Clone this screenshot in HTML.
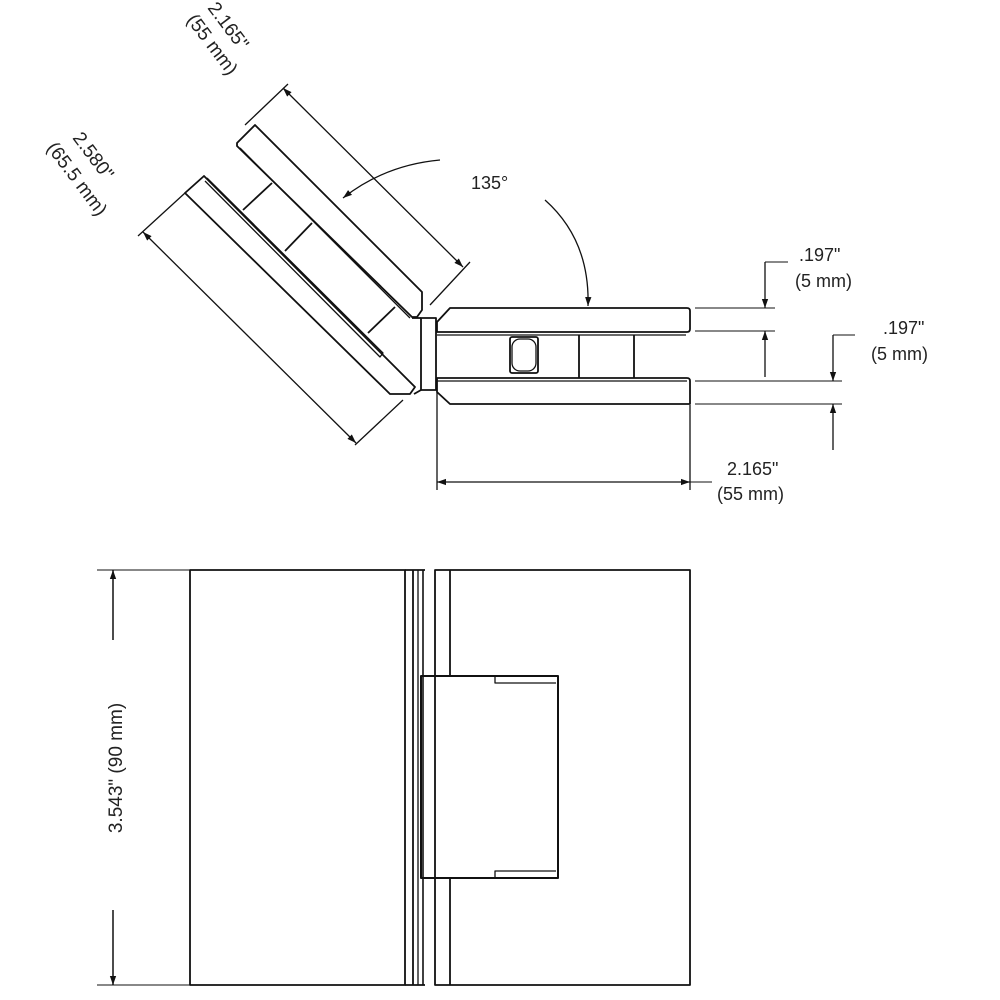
<!DOCTYPE html>
<html><head><meta charset="utf-8"><style>
html,body{margin:0;padding:0;background:#fff}
svg{display:block}
text{font-family:"Liberation Sans",Arial,sans-serif;fill:#222}
</style></head><body>
<svg width="1000" height="1000" viewBox="0 0 1000 1000" xmlns="http://www.w3.org/2000/svg">
<defs>
<marker id="a" viewBox="0 0 10 10" refX="10" refY="5" markerWidth="9" markerHeight="9" orient="auto-start-reverse" markerUnits="userSpaceOnUse"><path d="M0,1.5 L10,5 L0,8.5 z" fill="#111"/></marker>
</defs>
<g fill="none" stroke="#111" stroke-width="1.8" stroke-linejoin="round">
<path d="M450,308 L687,308 Q690,308 690,311 L690,329 Q690,332 687,332 L437,332 L437,322 Z"/>
<line x1="437" y1="335" x2="686" y2="335" stroke-width="1.2"/>
<path d="M437,378 L687,378 Q690,378 690,381 L690,404 L450,404 L437,392 Z"/>
<line x1="437" y1="381" x2="687" y2="381" stroke-width="1.2"/>
<rect x="510" y="337" width="28" height="36" rx="2"/>
<rect x="512" y="339" width="24" height="32" rx="8" stroke-width="1.3"/>
<line x1="579" y1="335" x2="579" y2="378"/>
<line x1="634" y1="335" x2="634" y2="378"/>
<rect x="421" y="318" width="15" height="72"/>
<line x1="437" y1="392" x2="437" y2="490" stroke-width="1.3"/>
<line x1="690" y1="405" x2="690" y2="490" stroke-width="1.3"/>
<line x1="421" y1="318" x2="412" y2="318"/>
<line x1="421" y1="390" x2="414" y2="394"/>
<path d="M185,193 L204,176 L415,387 L410,394 L390,394 Z"/>
<path d="M207,178 L383,353 L380,357 L205,181" stroke-width="1.3"/>
<path d="M237,143 L255,125 L422,292 L422,310 L417,317 L412,317 L237,146 Z"/>
<path d="M240,148 L410,318" stroke-width="1.3"/>
<line x1="243" y1="210" x2="272" y2="183"/>
<line x1="285" y1="251" x2="312" y2="223"/>
<line x1="368" y1="333" x2="395" y2="307"/>
<line x1="283" y1="88" x2="463" y2="267" stroke-width="1.3" marker-start="url(#a)" marker-end="url(#a)"/>
<line x1="245" y1="125" x2="288" y2="84" stroke-width="1.3"/>
<line x1="430" y1="305" x2="470" y2="262" stroke-width="1.3"/>
<line x1="143" y1="232" x2="356" y2="443" stroke-width="1.3" marker-start="url(#a)" marker-end="url(#a)"/>
<line x1="185" y1="193" x2="138" y2="236" stroke-width="1.3"/>
<line x1="403" y1="400" x2="355" y2="445" stroke-width="1.3"/>
<path d="M440,160 Q385,165 343,198" stroke-width="1.3" marker-end="url(#a)"/>
<path d="M545,200 Q590,240 588,306" stroke-width="1.3" marker-end="url(#a)"/>
<g stroke-width="1.1">
<line x1="695" y1="308" x2="775" y2="308"/>
<line x1="695" y1="331" x2="775" y2="331"/>
<line x1="695" y1="381" x2="842" y2="381"/>
<line x1="695" y1="404" x2="842" y2="404"/>
<line x1="765" y1="262" x2="788" y2="262"/>
<line x1="833" y1="335" x2="855" y2="335"/>
</g>
<line x1="765" y1="262" x2="765" y2="308" stroke-width="1.3" marker-end="url(#a)"/>
<line x1="765" y1="377" x2="765" y2="331" stroke-width="1.3" marker-end="url(#a)"/>
<line x1="833" y1="335" x2="833" y2="381" stroke-width="1.3" marker-end="url(#a)"/>
<line x1="833" y1="450" x2="833" y2="404" stroke-width="1.3" marker-end="url(#a)"/>
<line x1="437" y1="482" x2="690" y2="482" stroke-width="1.3" marker-start="url(#a)" marker-end="url(#a)"/>
<line x1="690" y1="482" x2="712" y2="482" stroke-width="1.1"/>
<rect x="190" y="570" width="215" height="415"/>
<line x1="413" y1="570" x2="413" y2="985"/>
<line x1="418" y1="570" x2="418" y2="985" stroke-width="1.3"/>
<line x1="423" y1="570" x2="423" y2="985" stroke-width="1.6"/>
<line x1="405" y1="570" x2="425" y2="570"/>
<line x1="405" y1="985" x2="425" y2="985"/>
<path d="M435,985 L435,570 L690,570 L690,985 Z"/>
<line x1="450" y1="570" x2="450" y2="676"/>
<line x1="450" y1="878" x2="450" y2="985"/>
<path d="M421,676 L558,676 L558,878 L421,878 Z" stroke-width="2"/>
<path d="M495,676 L495,683 L556,683" stroke-width="1.3"/>
<path d="M495,878 L495,871 L556,871" stroke-width="1.3"/>
<line x1="97" y1="570" x2="190" y2="570" stroke-width="1.1"/>
<line x1="97" y1="985" x2="190" y2="985" stroke-width="1.1"/>
<line x1="113" y1="640" x2="113" y2="570" stroke-width="1.5" marker-end="url(#a)"/>
<line x1="113" y1="910" x2="113" y2="985" stroke-width="1.5" marker-end="url(#a)"/>
</g>
<g font-size="18">
<text x="471" y="189">135°</text>
<text x="799" y="261">.197"</text>
<text x="795" y="287">(5 mm)</text>
<text x="883" y="334">.197"</text>
<text x="871" y="360">(5 mm)</text>
<text x="727" y="475">2.165"</text>
<text x="717" y="500">(55 mm)</text>
<text font-size="19" transform="translate(207,8) rotate(53)">2.165"</text>
<text font-size="19" transform="translate(186,20) rotate(53)">(55 mm)</text>
<text font-size="19" transform="translate(72,138) rotate(53)">2.580"</text>
<text font-size="19" transform="translate(46,148) rotate(53)">(65.5 mm)</text>
<text font-size="19" text-anchor="middle" transform="translate(122,768) rotate(-90)">3.543" (90 mm)</text>
</g>
</svg>
</body></html>
